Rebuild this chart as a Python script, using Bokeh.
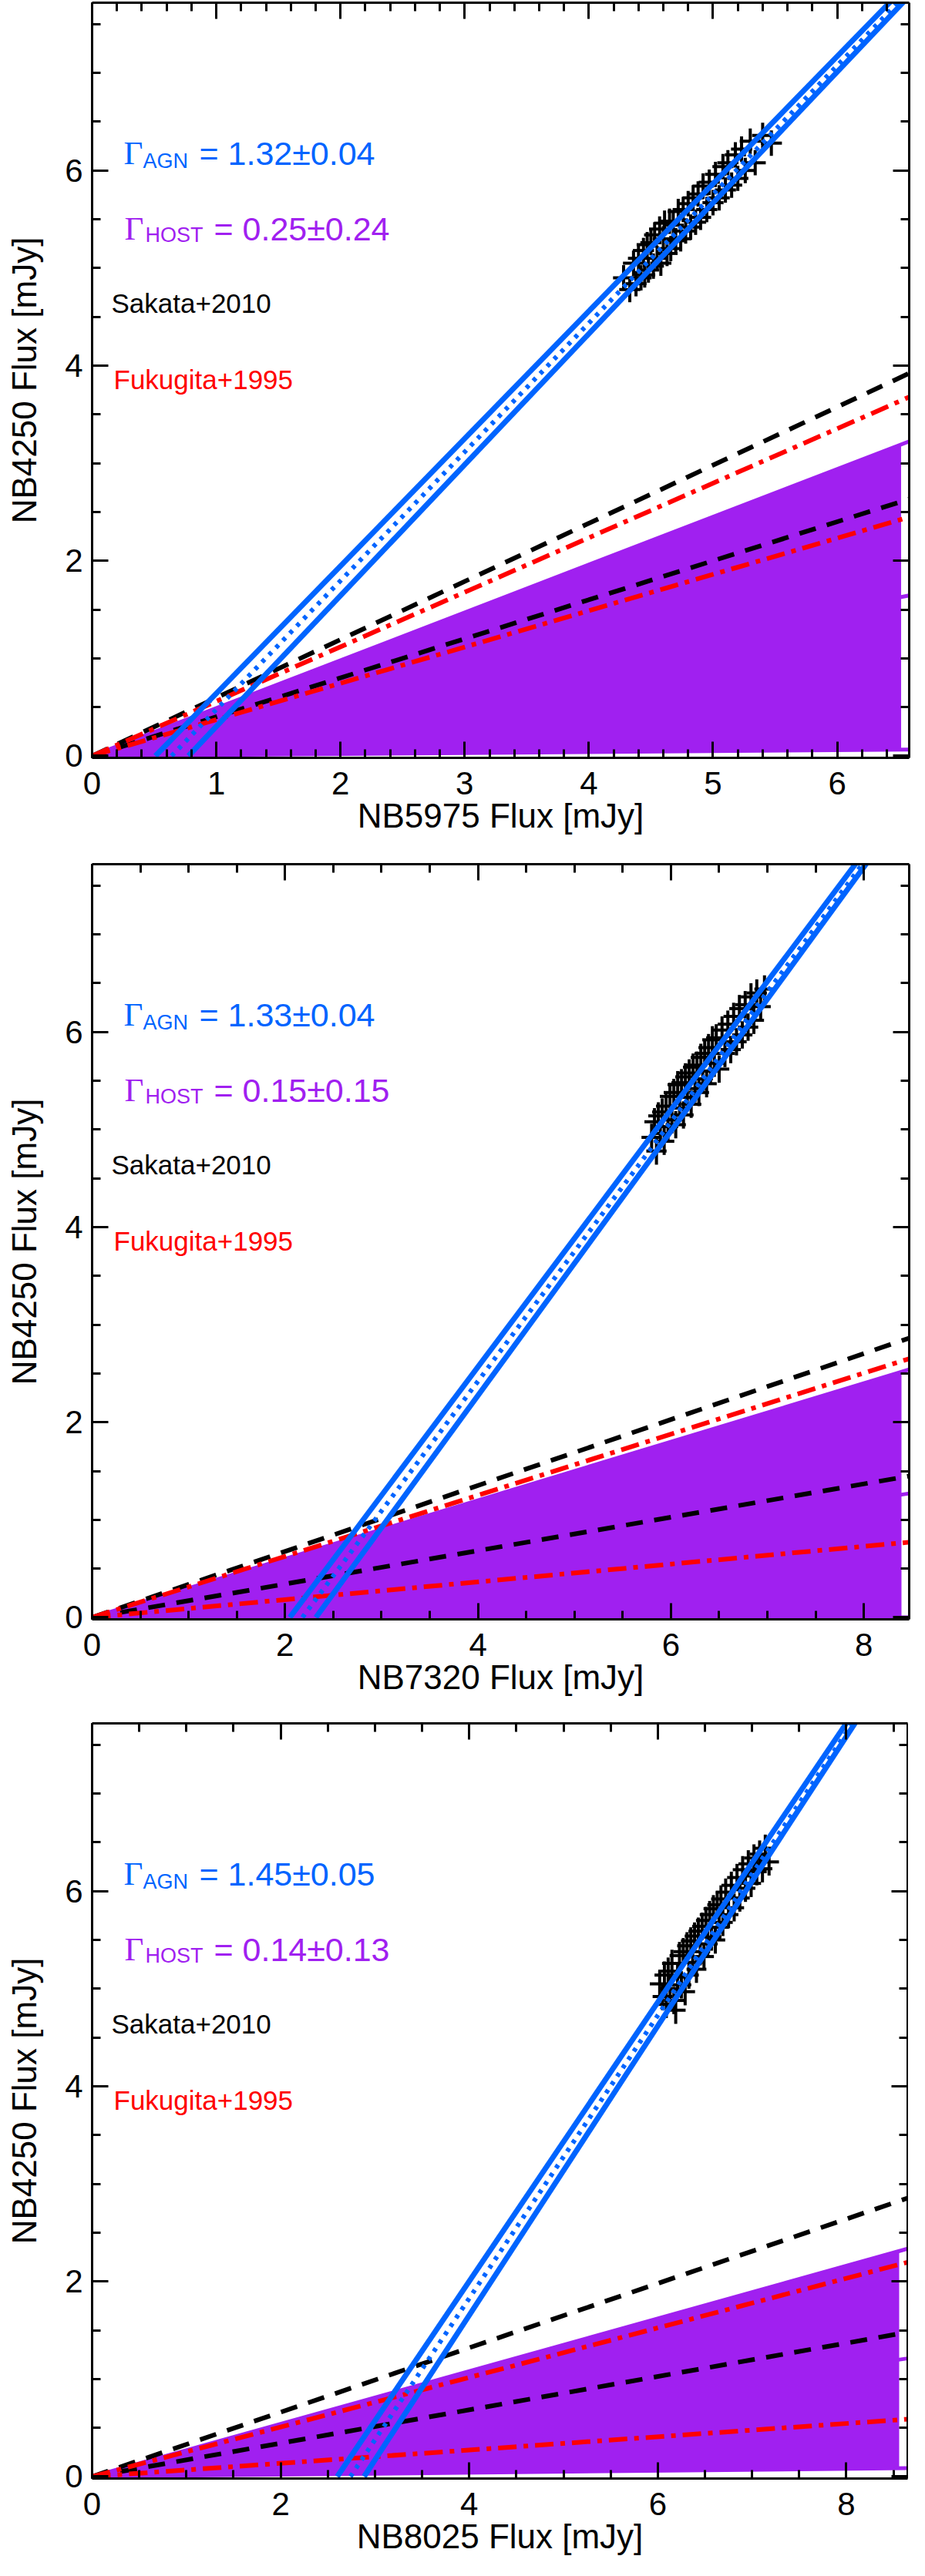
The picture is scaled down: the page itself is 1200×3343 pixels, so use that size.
import numpy as np
from bokeh.plotting import figure
from bokeh.layouts import column
from bokeh.models import Range1d, LinearAxis, SingleIntervalTicker, Label, ColumnDataSource
from bokeh.embed import file_html
from bokeh.resources import INLINE

# bands on the x axis, NB4250 always on y
bands = ["NB5975", "NB7320", "NB8025"]
x_max = [6.58, 8.47, 8.65]
x_major = [1, 2, 2]
x_minor = [5, 4, 4]
fill_end = [6.515, 8.39, 8.56]
y_min, y_max = -0.02, 7.72

# AGN fit: lower / centre / upper line as x-intercept + slope
agn_text = ["1.32\u00b10.04", "1.33\u00b10.04", "1.45\u00b10.05"]
agn_x0 = [[0.51, 0.64, 0.776], [2.05, 2.18, 2.32], [2.60, 2.74, 2.885]]
agn_slope = [[1.306, 1.32, 1.342], [1.317, 1.33, 1.354], [1.43, 1.45, 1.483]]

# host galaxy colour
host_text = ["0.25\u00b10.24", "0.15\u00b10.15", "0.14\u00b10.13"]
host_slope = [0.25, 0.15, 0.14]
host_err = [0.24, 0.15, 0.13]

# literature host colours (two lines each)
sakata_slope = [[0.596, 0.400], [0.338, 0.171], [0.330, 0.171]]
fukugita_slope = [[0.559, 0.372], [0.313, 0.091], [0.254, 0.068]]

# flux measurements
x_pts = [
    [4.28, 4.33, 4.36, 4.38, 4.40, 4.42, 4.44, 4.45, 4.47, 4.48, 4.50, 4.52, 4.53, 4.55, 4.57, 4.58, 4.60,
     4.61, 4.63, 4.65, 4.66, 4.68, 4.70, 4.72, 4.74, 4.76, 4.78, 4.80, 4.82, 4.84, 4.86, 4.88, 4.90, 4.92,
     4.95, 4.97, 5.00, 5.02, 5.05, 5.08, 5.10, 5.12, 5.15, 5.18, 5.20, 5.23, 5.26, 5.30, 5.34, 5.40, 5.47],
    [5.80, 5.83, 5.85, 5.87, 5.89, 5.91, 5.93, 5.95, 5.97, 5.99, 6.01, 6.03, 6.05, 6.07, 6.09, 6.11, 6.13,
     6.15, 6.17, 6.19, 6.21, 6.23, 6.25, 6.27, 6.29, 6.31, 6.33, 6.35, 6.37, 6.39, 6.41, 6.43, 6.45, 6.47,
     6.50, 6.53, 6.56, 6.59, 6.62, 6.65, 6.68, 6.71, 6.74, 6.77, 6.80, 6.83, 6.86, 6.89, 6.93, 6.97],
    [6.02, 6.05, 6.07, 6.09, 6.11, 6.13, 6.15, 6.17, 6.19, 6.21, 6.23, 6.25, 6.27, 6.29, 6.31, 6.33, 6.35,
     6.37, 6.39, 6.41, 6.43, 6.45, 6.47, 6.49, 6.51, 6.53, 6.55, 6.57, 6.59, 6.61, 6.63, 6.65, 6.67, 6.69,
     6.72, 6.75, 6.78, 6.81, 6.84, 6.87, 6.90, 6.93, 6.96, 6.99, 7.02, 7.05, 7.08, 7.11, 7.14, 7.18],
]
y_pts = [
    [4.90, 4.78, 5.05, 4.84, 5.10, 4.90, 5.18, 4.93, 5.24, 4.98, 5.26, 5.02, 5.34, 5.10, 5.40, 5.05, 5.30,
     5.46, 5.15, 5.48, 5.20, 5.44, 5.28, 5.58, 5.30, 5.60, 5.38, 5.66, 5.42, 5.72, 5.47, 5.76, 5.52, 5.84,
     5.60, 5.88, 5.67, 5.96, 5.72, 6.04, 5.80, 6.08, 5.85, 6.16, 5.92, 6.22, 6.00, 6.30, 6.08, 6.36, 6.28],
    [4.92, 5.08, 4.78, 5.14, 4.96, 5.18, 4.88, 5.24, 5.03, 5.34, 5.10, 5.38, 5.05, 5.46, 5.22, 5.48, 5.15,
     5.54, 5.33, 5.58, 5.26, 5.64, 5.42, 5.66, 5.38, 5.74, 5.52, 5.78, 5.47, 5.84, 5.60, 5.92, 5.68, 5.94,
     5.62, 6.02, 5.78, 6.08, 5.82, 6.16, 5.90, 6.24, 5.97, 6.28, 6.05, 6.36, 6.12, 6.40, 6.26, 6.44],
    [5.05, 4.92, 5.14, 4.84, 5.18, 5.00, 5.26, 4.88, 4.78, 5.12, 5.34, 5.04, 5.38, 4.97, 5.44, 5.14, 5.49,
     5.27, 5.54, 5.20, 5.59, 5.38, 5.64, 5.33, 5.70, 5.46, 5.76, 5.53, 5.82, 5.50, 5.86, 5.63, 5.92, 5.68,
     5.99, 5.76, 6.06, 5.83, 6.14, 5.93, 6.22, 6.03, 6.28, 6.08, 6.34, 6.20, 6.38, 6.23, 6.44, 6.30],
]
x_err = [0.085, 0.105, 0.105]
y_err = [0.13, 0.14, 0.14]

BLUE = "#0064ff"
PURPLE = "#a020f0"
RED = "#ff0000"
FONT = "Liberation Sans"

# frame placement per panel (left border, frame width, bottom border)
left_border = [119, 119, 112]
frame_w = [1060, 1060, 1058]
bottom_border = [135, 132, 112]


def style_axis(ax, show_labels):
    ax.axis_line_width = 3
    ax.axis_line_color = "black"
    ax.major_tick_line_width = 3
    ax.minor_tick_line_width = 3
    ax.major_tick_line_color = "black"
    ax.minor_tick_line_color = "black"
    ax.major_tick_in = 21
    ax.major_tick_out = 0
    ax.minor_tick_in = 11
    ax.minor_tick_out = 0
    ax.major_label_text_font = FONT
    if show_labels:
        ax.major_label_text_font_size = "42px"
        ax.major_label_text_color = "black"
        ax.axis_label_text_font = FONT
        ax.axis_label_text_font_size = "44px"
        ax.axis_label_text_font_style = "normal"
        ax.axis_label_text_color = "black"
    else:
        # mirrored box ticks only, no numbers
        ax.major_label_text_font_size = "0px"
        ax.major_label_text_color = None
        ax.major_label_standoff = 0


def add_text(p, x, y, text, font, size, color):
    p.add_layout(Label(x=x, y=y, x_units="screen", y_units="screen", text=text,
                       text_font=font, text_font_size=size, text_color=color,
                       text_baseline="alphabetic", text_align="left"))


def make_panel(i):
    xm = x_max[i]
    p = figure(frame_width=frame_w[i], frame_height=980,
               x_range=Range1d(0, xm), y_range=Range1d(y_min, y_max),
               x_axis_label=bands[i] + " Flux [mJy]", y_axis_label="NB4250 Flux [mJy]",
               output_backend="svg", toolbar_location=None,
               min_border_left=left_border[i], min_border_right=5,
               min_border_top=3, min_border_bottom=bottom_border[i])
    p.grid.visible = False
    p.outline_line_color = None
    p.background_fill_color = "white"

    p.xaxis[0].ticker = SingleIntervalTicker(interval=x_major[i], num_minor_ticks=x_minor[i])
    p.yaxis[0].ticker = SingleIntervalTicker(interval=2, num_minor_ticks=4)
    style_axis(p.xaxis[0], True)
    style_axis(p.yaxis[0], True)
    p.xaxis[0].major_label_standoff = 18
    p.xaxis[0].axis_label_standoff = 0
    p.yaxis[0].major_label_standoff = 12
    p.yaxis[0].axis_label_standoff = 25
    top = LinearAxis(ticker=SingleIntervalTicker(interval=x_major[i], num_minor_ticks=x_minor[i]))
    right = LinearAxis(ticker=SingleIntervalTicker(interval=2, num_minor_ticks=4))
    style_axis(top, False)
    style_axis(right, False)
    p.add_layout(top, "above")
    p.add_layout(right, "right")

    # host colour range
    s, e = host_slope[i], host_err[i]
    for k in (s - e, s, s + e):
        p.line([0, xm], [0, k * xm], line_color=PURPLE, line_width=5)
    fe = fill_end[i]
    p.varea(x=[0, fe], y1=[0, (s - e) * fe], y2=[0, (s + e) * fe], fill_color=PURPLE)

    for k in sakata_slope[i]:
        p.line([0, xm], [0, k * xm], line_color="black", line_width=6, line_dash="22 15")
    for k in fukugita_slope[i]:
        p.line([0, xm], [0, k * xm], line_color=RED, line_width=6, line_dash="24 9 6 9")

    x = np.array(x_pts[i])
    y = np.array(y_pts[i])
    src = ColumnDataSource(dict(x=x, y=y, xl=x - x_err[i], xr=x + x_err[i],
                                yl=y - y_err[i], yh=y + y_err[i]))
    p.segment(x0="xl", y0="y", x1="xr", y1="y", source=src, line_color="black", line_width=4)
    p.segment(x0="x", y0="yl", x1="x", y1="yh", source=src, line_color="black", line_width=4)

    for j in range(3):
        x0, k = agn_x0[i][j], agn_slope[i][j]
        x1 = x0 + (y_max + 0.5) / k
        if j == 1:
            p.line([x0, x1], [0, k * (x1 - x0)], line_color=BLUE, line_width=6, line_dash="5 8")
        else:
            p.line([x0, x1], [0, k * (x1 - x0)], line_color=BLUE, line_width=7)

    # annotations, pixel offsets from the frame's lower-left corner
    add_text(p, 41, 785, "\u0393", "Liberation Serif", "43px", BLUE)
    add_text(p, 66, 775, "AGN", FONT, "27px", BLUE)
    add_text(p, 139, 785, "= " + agn_text[i], FONT, "43px", BLUE)
    add_text(p, 42, 687, "\u0393", "Liberation Serif", "43px", PURPLE)
    add_text(p, 69, 679, "HOST", FONT, "27px", PURPLE)
    add_text(p, 158, 687, "= " + host_text[i], FONT, "43px", PURPLE)
    add_text(p, 25, 590, "Sakata+2010", FONT, "35px", "black")
    add_text(p, 28, 491, "Fukugita+1995", FONT, "35px", RED)
    return p


layout = column(make_panel(0), make_panel(1), make_panel(2))
open("out.html", "w").write(file_html(layout, INLINE))
